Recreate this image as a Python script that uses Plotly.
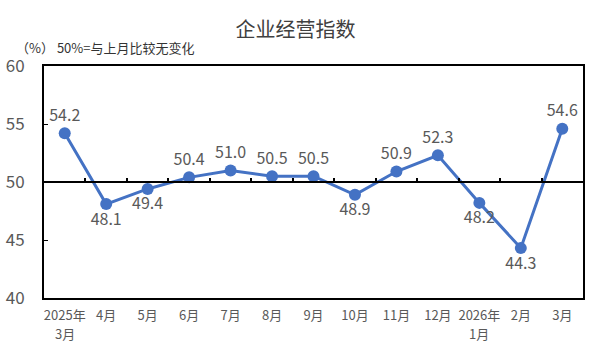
import plotly.graph_objects as go

categories = ["2025年3月", "4月", "5月", "6月", "7月", "8月", "9月", "10月", "11月", "12月", "2026年1月", "2月", "3月"]
tick_line1 = ["2025年", "4月", "5月", "6月", "7月", "8月", "9月", "10月", "11月", "12月", "2026年", "2月", "3月"]
tick_line2 = ["3月", "", "", "", "", "", "", "", "", "", "1月", "", ""]
values = [54.2, 48.1, 49.4, 50.4, 51.0, 50.5, 50.5, 48.9, 50.9, 52.3, 48.2, 44.3, 54.6]
label_pos = ["top center", "bottom center", "bottom center", "top center", "top center", "top center",
             "top center", "bottom center", "top center", "top center", "bottom center", "bottom center", "top center"]
y_ticks = [40, 45, 50, 55, 60]

font_fam = "Noto Sans CJK SC, Noto Sans, sans-serif"
gray = "#595959"
n = len(categories)
xr = [-0.5, n - 0.5]

fig = go.Figure()
fig.add_trace(go.Scatter(
    x=categories, y=values, mode="lines+markers+text",
    line=dict(color="#4472C4", width=3),
    marker=dict(color="#4472C4", size=12),
    text=[f"{v:.1f}" for v in values], textposition=label_pos,
    textfont=dict(size=16, color=gray, family=font_fam),
    cliponaxis=False, showlegend=False,
))
# invisible trace to carry the reference-line axis (ticks on the 50 line)
fig.add_trace(go.Scatter(x=categories, y=[None] * n, xaxis="x2", yaxis="y",
                         mode="lines", showlegend=False, hoverinfo="skip"))
fig.add_hline(y=50, line=dict(color="black", width=2))

annotations = [dict(text="（%） 50%=与上月比较无变化", xref="paper", yref="paper",
                    x=-0.056, y=1.0, xanchor="left", yanchor="bottom", yshift=7,
                    showarrow=False, font=dict(size=13, color="#333333", family=font_fam))]
for c, t in zip(categories, tick_line2):
    if t:
        annotations.append(dict(text=t, x=c, xref="x", y=0, yref="paper", yanchor="middle",
                                yshift=-35, showarrow=False,
                                font=dict(size=13, color=gray, family=font_fam)))

fig.update_layout(
    width=591, height=354,
    margin=dict(l=44, r=6, t=66, b=56),
    paper_bgcolor="white", plot_bgcolor="white",
    font=dict(family=font_fam, color=gray),
    title=dict(text="企业经营指数", x=0.5, xanchor="center", y=0.915, yanchor="middle",
               font=dict(size=20, color="#404040", family=font_fam)),
    annotations=annotations,
    xaxis=dict(type="category", range=xr, showline=True, linecolor="black", linewidth=2,
               mirror=True, showgrid=False, ticks="", tickvals=categories, ticktext=tick_line1,
               tickfont=dict(size=13, color=gray), ticklabelstandoff=4, zeroline=False),
    xaxis2=dict(type="category", overlaying="x", anchor="free", position=0.5, range=xr,
                tickson="boundaries", ticks="inside", ticklen=4, tickcolor="black", tickwidth=1.5,
                showticklabels=False, showgrid=False, showline=False, zeroline=False),
)
fig.update_yaxes(range=[40, 60], tickvals=y_ticks, showline=True, linecolor="black", linewidth=2,
                 mirror=True, showgrid=False, ticks="inside", ticklen=4, tickcolor="black",
                 tickfont=dict(size=17, color=gray), ticklabelstandoff=14, zeroline=False)

fig.write_html("out.html")
